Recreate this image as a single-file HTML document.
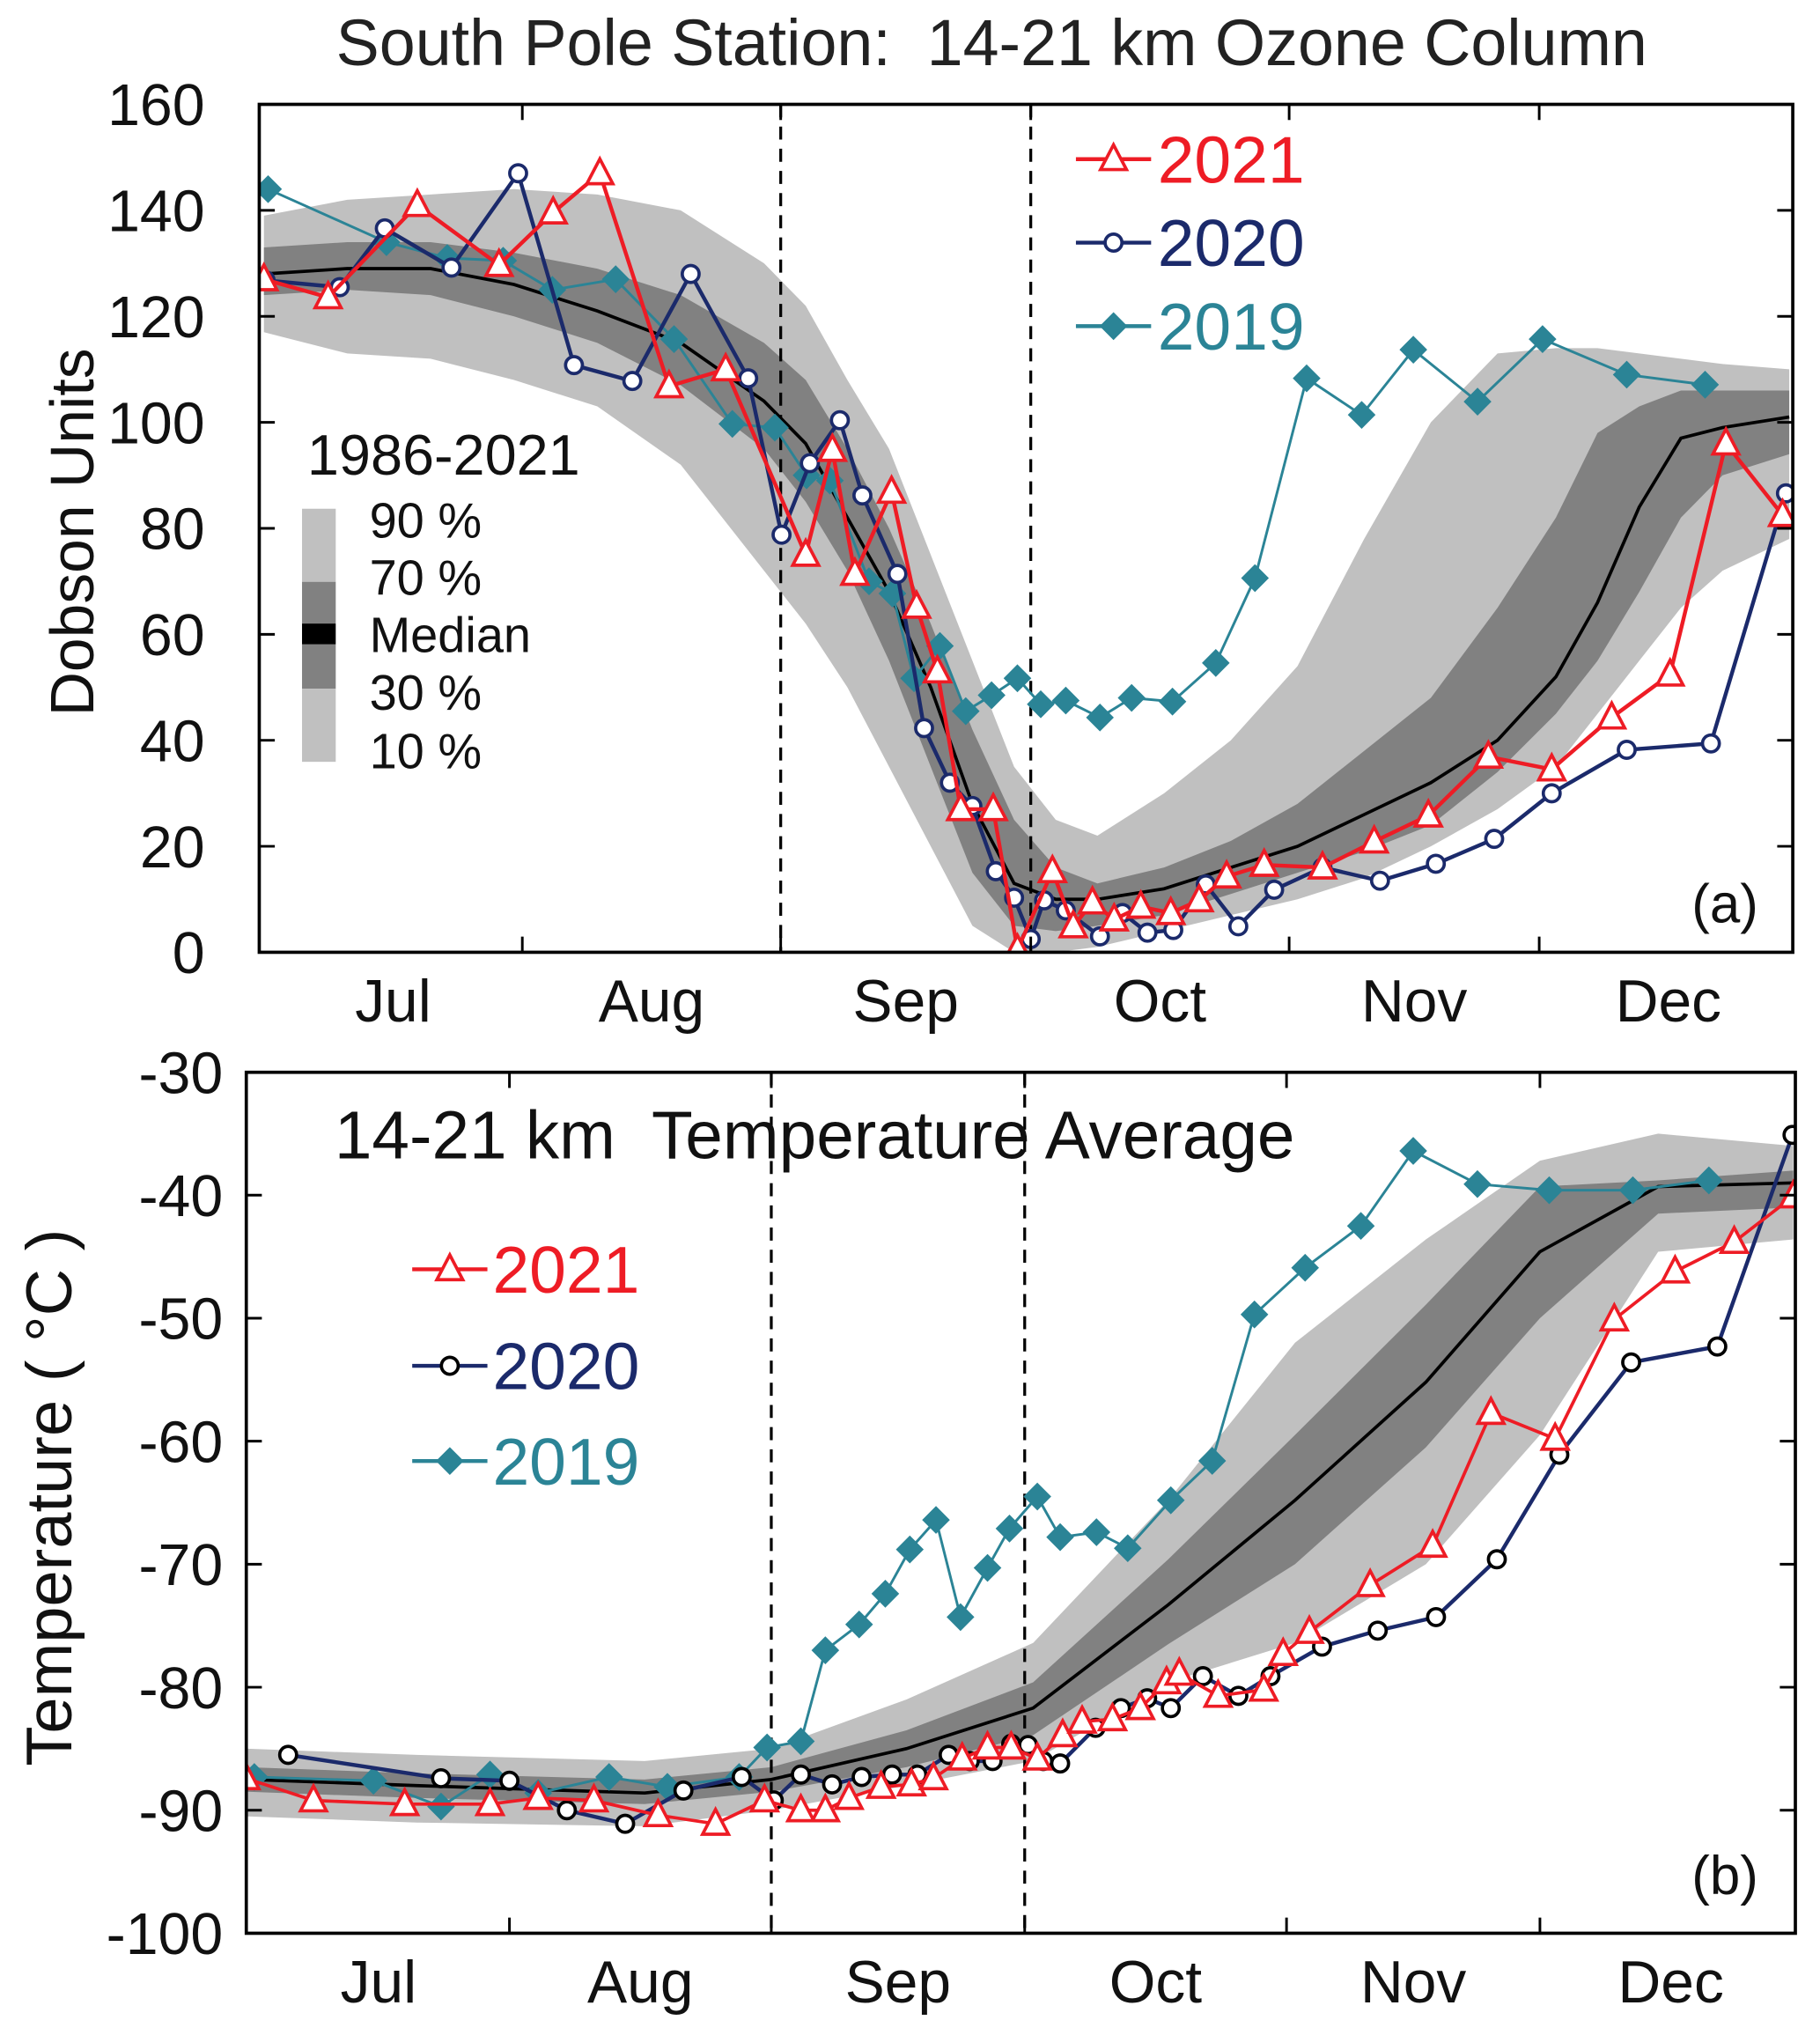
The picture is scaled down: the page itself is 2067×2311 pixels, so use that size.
<!DOCTYPE html>
<html><head><meta charset="utf-8">
<style>
html,body{margin:0;padding:0;background:#fff;}
svg{display:block;font-family:"Liberation Sans",Arial,sans-serif;}
text{white-space:pre;}
</style></head>
<body>
<svg id="chart" width="2067" height="2311" viewBox="0 0 1404 1560" preserveAspectRatio="none" xmlns="http://www.w3.org/2000/svg" xml:space="preserve">
<rect x="0" y="0" width="1404" height="1560" fill="#fff"/>
<text x="765" y="50" font-size="50" text-anchor="middle" fill="#222">South Pole Station:  14-21 km Ozone Column</text>
<g id="toppanel"></g>
<g id="botpanel"></g>
</svg>
<script>
// ---------- DATA ----------
const monthLabels = ["Jul","Aug","Sep","Oct","Nov","Dec"];
const monthMid = [15.5,46.5,77,107.5,138,168.5];
const monthBounds = [31,62,92,123,153];
const dashedDays = [62,92];

const ozTicks = [0,20,40,60,80,100,120,140,160];
const bandDaysO = [0,10,20,30,40,50,60,65,70,75,80,85,90,95,100,108,116,124,132,140,148,155,160,165,170,175,183];
const ozP90 = [139,142,143,144,143,140,130,122,108,95,75,55,35,25,22,30,40,54,78,100,113,114,114,113,112,111,110];
const ozP70 = [133,134,134,132,129,124,115,108,95,80,62,42,25,16,13,16,21,28,38,48,65,82,98,103,106,106,106];
const ozMed = [128,129,129,126,121,115,104,96,82,68,50,28,13,10,10,12,16,20,26,32,40,52,66,84,97,99,101];
const ozP30 = [124,125,124,120,115,107,95,85,72,55,35,15,5,4,5,7,11,15,19,24,34,45,55,68,82,90,94];
const ozP10 = [117,113,112,108,103,92,72,62,50,35,20,5,0,0,1,4,7,10,14,20,27,35,45,55,65,72,78];

const oz2021Days = [0,7.7,18.4,28.2,34.7,40.3,48.6,55.4,65,68.2,70.9,75.3,78.3,80.8,83.6,87.5,90.4,94.6,97.1,99.4,102,105.2,108.8,112.2,115.5,120,127,133.2,139.7,146.9,154.5,161.7,168.7,175.4,182.2];
const oz2021Vals = [127,123.6,141,129.7,139.6,147,106.8,110,75,94.8,71.4,86.9,65.2,53,27,27,0.5,15.3,4.9,9.4,6.2,8.6,7.4,9.8,14.3,16.5,16,20.9,25.8,36.9,34.5,44.3,52.4,96,82.5];
const oz2020Days = [0.2,9.1,14.5,22.5,30.5,37.2,44.2,51.2,58.1,62.1,65.5,69.1,71.8,76,79.2,82.3,85,87.8,90,92,93.6,96.2,100.3,103,106,109.1,113,116.9,121.2,127,133.9,140.6,147.6,154.5,163.5,173.6,182.6];
const oz2020Vals = [126.8,125.5,136.6,129.2,147,110.8,107.8,128,108.3,78.8,92.3,100.4,86.2,71.4,42.3,32,27.6,15.3,10.3,2.5,9.8,7.9,3,7.4,3.7,4.2,12.8,4.9,11.8,16,13.5,16.7,21.4,30,38.2,39.4,86.6];
const oz2019Days = [0.5,14.7,22,28.7,34.6,42.2,49.2,56.2,61.3,65.1,67.9,72.6,75.4,78,81.1,84.2,87.3,90.4,93.2,96.2,100.3,104.1,109,114.2,118.9,125.1,131.7,137.9,145.6,153.4,163.5,172.9];
const oz2019Vals = [144,134,131,130.5,125,127,115.7,99.7,99,90,89,70,67.7,51.7,57.8,45.5,48.5,51.7,46.8,47.5,44.3,48,47.3,54.6,70.6,108.3,101.4,113.7,103.9,115.7,109,107.1];

const tTicks = [-100,-90,-80,-70,-60,-50,-40,-30];
const bandDaysT = [0,20,47,62,78,93,109,124,139.5,153,167,183];
const tP90 = [-85,-85.5,-86,-85,-81,-76.4,-64.8,-52,-43.6,-37.2,-35,-36];
const tP70 = [-86.5,-87,-87.5,-86.5,-83.5,-79.6,-69.6,-59.5,-48.9,-39.3,-38.8,-38];
const tMed = [-87.5,-88,-88.6,-87.5,-85,-81.7,-73.3,-64.8,-55.2,-44.6,-39.3,-39];
const tP30 = [-88.5,-89,-89.5,-88.5,-86.5,-83.9,-76.5,-70,-60.5,-50,-41.5,-41];
const tP10 = [-90.5,-91,-91.3,-90,-88,-86,-79.6,-76.4,-70,-59.5,-44.6,-43.6];

const t2021Days = [-0.2,7.8,18.6,28.7,34.4,41,48.6,55.4,61.2,65.5,68.4,71.2,75,78.6,81.2,84.6,87.6,90.4,93.5,96.5,98.8,102.4,105.7,108.8,110.3,114.9,120.3,122.6,125.7,132.9,140.3,147.2,154.8,161.8,169,176,183];
const t2021Vals = [-87.4,-89.2,-89.5,-89.5,-89,-89.2,-90.4,-91.1,-89.2,-90,-90,-89,-88.1,-87.9,-87.4,-85.8,-84.9,-84.9,-85.8,-83.9,-82.8,-82.6,-81.7,-79.6,-78.9,-80.7,-80.2,-77.3,-75.5,-71.7,-68.5,-57.7,-59.8,-50.1,-46.2,-43.8,-40.1];
const t2020Days = [4.8,22.9,31,37.8,44.7,51.6,58.5,62.3,65.5,69.2,72.7,76.3,79.3,83,85.5,88.2,90.4,92.4,94.2,96.2,100.4,103.4,106.5,109.3,113.1,117.3,121.1,127.2,133.8,140.7,147.9,155.3,163.8,174,182.9];
const t2020Vals = [-85.5,-87.4,-87.6,-90,-91.1,-88.4,-87.3,-89.2,-87.1,-87.9,-87.3,-87.1,-87.1,-85.5,-86,-86,-84.6,-84.7,-86,-86.2,-83.3,-81.7,-80.9,-81.7,-79.1,-80.7,-79.1,-76.7,-75.4,-74.3,-69.6,-61.1,-53.6,-52.3,-35.1];
const t2019Days = [0.8,14.9,22.9,28.7,34.4,42.8,49.7,58.2,61.5,65.5,68.4,72.4,75.5,78.4,81.5,84.4,87.6,90.2,93.5,96.2,100.5,104.2,109.3,114.2,119.2,125.2,131.8,138,145.6,154.1,164,173];
const t2019Vals = [-87.3,-87.6,-89.7,-87.1,-88.6,-87.3,-88.1,-87.3,-84.9,-84.4,-77,-74.9,-72.4,-68.8,-66.4,-74.3,-70.3,-67.1,-64.5,-67.8,-67.4,-68.7,-64.8,-61.6,-49.7,-45.9,-42.5,-36.4,-39.1,-39.6,-39.6,-38.8];

// ---------- DRAW ----------
const NS = "http://www.w3.org/2000/svg";
function mk(tag, attrs, parent){
  const e = document.createElementNS(NS, tag);
  for (const k in attrs) e.setAttribute(k, attrs[k]);
  parent.appendChild(e);
  return e;
}
const RED = "#ee1c25", NAVY = "#1b2a6b", TEAL = "#2b8496";

function bandPath(days, lo, hi, xs, ys){
  let d = "";
  for (let i=0;i<days.length;i++) d += (i?"L":"M") + xs(days[i]) + "," + ys(hi[i]);
  for (let i=days.length-1;i>=0;i--) d += "L" + xs(days[i]) + "," + ys(lo[i]);
  return d + "Z";
}
function linePath(days, vals, xs, ys){
  let d = "";
  for (let i=0;i<days.length;i++) d += (i?"L":"M") + xs(days[i]).toFixed(1) + "," + ys(vals[i]).toFixed(1);
  return d;
}
function marker(g, kind, cx, cy, stroke){
  let m;
  if (kind==="tri"){
    m = mk("polygon",{points:`${cx},${cy-11} ${cx-10},${cy+8} ${cx+10},${cy+8}`,fill:"#fff",stroke:stroke,"stroke-width":2.5},g);
  } else if (kind==="circ"){
    m = mk("circle",{cx:cx,cy:cy,r:6.5,fill:"#fff",stroke:stroke,"stroke-width":2.5},g);
  } else {
    m = mk("polygon",{points:`${cx},${cy-10} ${cx+10},${cy} ${cx},${cy+10} ${cx-10},${cy}`,fill:stroke,stroke:stroke,"stroke-width":1},g);
  }
  return m;
}

function panel(cfg){
  const g = document.getElementById(cfg.id);
  const xs = d => cfg.x0 + d*cfg.kx;
  const ys = v => cfg.yb - (v - cfg.vmin)*cfg.ky;
  const clipId = cfg.id+"clip";
  const defs = mk("defs",{},g);
  const cp = mk("clipPath",{id:clipId},defs);
  mk("rect",{x:cfg.L,y:cfg.T,width:cfg.R-cfg.L,height:cfg.B-cfg.T},cp);
  const inner = mk("g",{"clip-path":`url(#${clipId})`},g);

  const b1 = mk("path",{d:bandPath(cfg.bd,cfg.p10,cfg.p90,xs,ys),fill:"#c0c0c0"},inner);
  
  
  const b2 = mk("path",{d:bandPath(cfg.bd,cfg.p30,cfg.p70,xs,ys),fill:"#818181"},inner);
  
  
  const med = mk("path",{d:linePath(cfg.bd,cfg.med,xs,ys),fill:"none",stroke:"#000","stroke-width":2.5},inner);
  
  

  dashedDays.forEach(d=>{
    const l = mk("line",{x1:xs(d),x2:xs(d),y1:cfg.T,y2:cfg.B,stroke:"#000","stroke-width":2.2,"stroke-dasharray":"10,7"},inner);
    
    
  });

  cfg.series.forEach(s=>{
    const sg = mk("g",{},inner);
    
    
    mk("path",{d:linePath(s.days,s.vals,xs,ys),fill:"none",stroke:s.color,"stroke-width":s.w},sg);
    for (let i=0;i<s.days.length;i++){
      const m = marker(sg,s.kind,xs(s.days[i]),ys(s.vals[i]),s.mstroke);
      
      
    }
  });

  const fr = mk("rect",{x:cfg.L,y:cfg.T,width:cfg.R-cfg.L,height:cfg.B-cfg.T,fill:"none",stroke:"#000","stroke-width":2.5},g);
  
  

  cfg.ticks.forEach(v=>{
    const y = ys(v);
    mk("line",{x1:cfg.L,x2:cfg.L+12,y1:y,y2:y,stroke:"#000","stroke-width":2},g);
    mk("line",{x1:cfg.R-12,x2:cfg.R,y1:y,y2:y,stroke:"#000","stroke-width":2},g);
    const t = mk("text",{x:cfg.L-cfg.lgap,y:y+16,"font-size":45,"text-anchor":"end",fill:"#111"},g);
    t.textContent = String(v);
    
    
  });
  monthBounds.forEach(d=>{
    mk("line",{x1:xs(d),x2:xs(d),y1:cfg.B-12,y2:cfg.B,stroke:"#000","stroke-width":2},g);
    mk("line",{x1:xs(d),x2:xs(d),y1:cfg.T,y2:cfg.T+12,stroke:"#000","stroke-width":2},g);
  });
  monthLabels.forEach((m,i)=>{
    const t = mk("text",{x:xs(monthMid[i]),y:cfg.B+53,"font-size":46,"text-anchor":"middle",fill:"#111"},g);
    t.textContent = m;
    
    
  });
  return {xs,ys,g};
}

const topPanel = panel({id:"toppanel",L:200,R:1383,T:80,B:730,x0:203.6,kx:6.43,yb:730,vmin:0,ky:4.0625,lgap:42,
  ticks:ozTicks,bd:bandDaysO,p10:ozP10,p30:ozP30,med:ozMed,p70:ozP70,p90:ozP90,
  series:[
    {name:"2019",days:oz2019Days,vals:oz2019Vals,color:TEAL,w:2,kind:"dia",mstroke:TEAL},
    {name:"2020",days:oz2020Days,vals:oz2020Vals,color:NAVY,w:3,kind:"circ",mstroke:NAVY},
    {name:"2021",days:oz2021Days,vals:oz2021Vals,color:RED,w:3,kind:"tri",mstroke:RED}
  ]});
const botPanel = panel({id:"botpanel",L:190,R:1385,T:822,B:1482,x0:191,kx:6.516,yb:1482,vmin:-100,ky:9.43,lgap:18,
  ticks:tTicks,bd:bandDaysT,p10:tP10,p30:tP30,med:tMed,p70:tP70,p90:tP90,
  series:[
    {name:"2019",days:t2019Days,vals:t2019Vals,color:TEAL,w:2,kind:"dia",mstroke:TEAL},
    {name:"2020",days:t2020Days,vals:t2020Vals,color:NAVY,w:3,kind:"circ",mstroke:"#000"},
    {name:"2021",days:t2021Days,vals:t2021Vals,color:RED,w:2.5,kind:"tri",mstroke:RED}
  ]});

function txt(g, x, y, s, size, color, extra){
  const t = mk("text",Object.assign({x:x,y:y,"font-size":size,fill:color},extra||{}),g);
  t.textContent = s;
  return t;
}
// top labels
const tg = topPanel.g;
let e;
e = txt(tg,0,0,"Dobson Units",47,"#111",{transform:"translate(72,408) rotate(-90)","text-anchor":"middle"});


e = txt(tg,1305,707,"(a)",42,"#111");


const legTop = [["2021",RED,"tri",RED,122],["2020",NAVY,"circ",NAVY,186],["2019",TEAL,"dia",TEAL,250]];
legTop.forEach(l=>{
  const lg = mk("g",{},tg);
  
  
  mk("line",{x1:830,x2:888,y1:l[4],y2:l[4],stroke:l[1],"stroke-width":3},lg);
  marker(lg,l[2],859,l[4],l[3]);
  txt(lg,893,l[4]+18,l[0],51,l[1]);
});
const bl = mk("g",{},tg);


txt(bl,237,364,"1986-2021",44,"#111");
mk("rect",{x:233,y:390,width:26,height:56,fill:"#c0c0c0"},bl);
mk("rect",{x:233,y:446,width:26,height:32,fill:"#818181"},bl);
mk("rect",{x:233,y:478,width:26,height:16,fill:"#000"},bl);
mk("rect",{x:233,y:494,width:26,height:34,fill:"#818181"},bl);
mk("rect",{x:233,y:528,width:26,height:56,fill:"#c0c0c0"},bl);
[["90 %",412],["70 %",456],["Median",500],["30 %",544],["10 %",589]].forEach(p=>txt(bl,285,p[1],p[0],38,"#111"));

// bottom labels
const bg = botPanel.g;
e = txt(bg,258,888,"14-21 km  Temperature Average",52,"#111");


e = txt(bg,0,0,"Temperature ( °C )",50,"#111",{transform:"translate(55,1148) rotate(-90)","text-anchor":"middle"});


e = txt(bg,1305,1452,"(b)",42,"#111");


const legBot = [["2021",RED,"tri",RED,973],["2020",NAVY,"circ","#000",1047],["2019",TEAL,"dia",TEAL,1120]];
legBot.forEach(l=>{
  const lg = mk("g",{},bg);
  
  
  mk("line",{x1:318,x2:376,y1:l[4],y2:l[4],stroke:l[1],"stroke-width":3},lg);
  marker(lg,l[2],347,l[4],l[3]);
  txt(lg,380,l[4]+18,l[0],51,l[1]);
});
</script>
</body></html>
